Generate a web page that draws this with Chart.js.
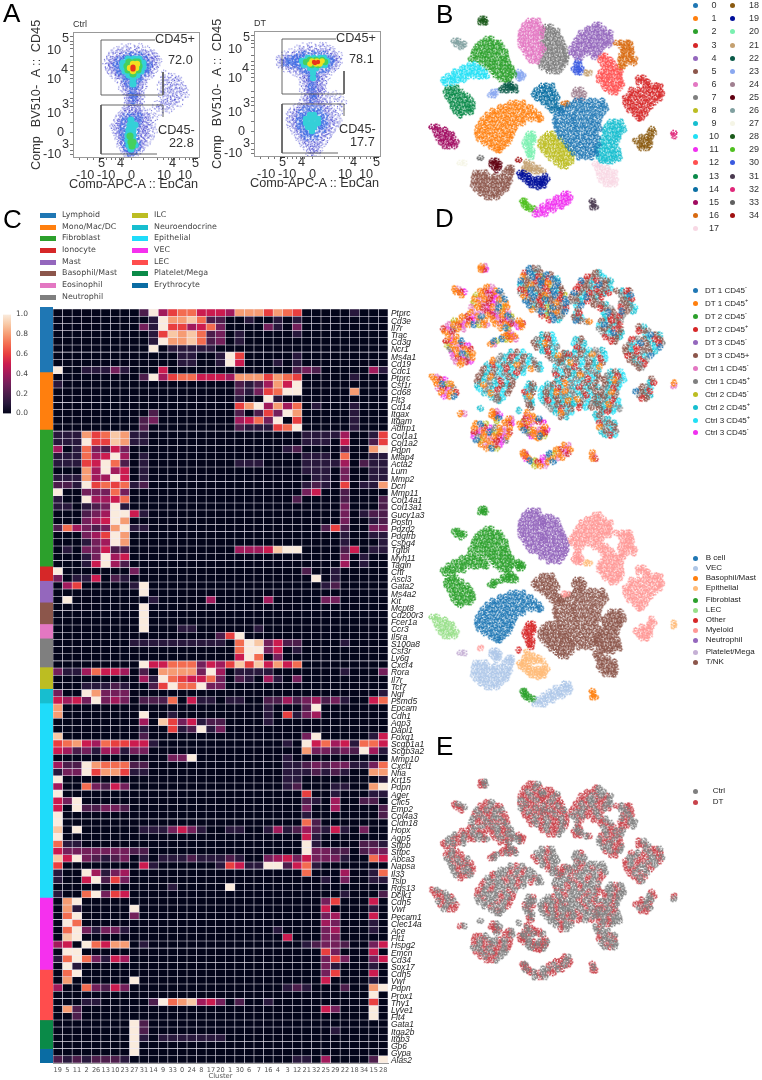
<!DOCTYPE html>
<html>
<head>
<meta charset="utf-8">
<title>Figure</title>
<script src="https://cdn.jsdelivr.net/npm/chart.js@4/dist/chart.umd.min.js"></script>
<style>
html,body{margin:0;padding:0;background:#fff}
#page{position:relative;width:762px;height:1080px;overflow:hidden;font-family:"Liberation Sans",sans-serif;filter:blur(.3px)}
#page canvas{position:absolute}
.t{position:absolute;white-space:nowrap;color:#333;line-height:1}
.dot{position:absolute;width:5px;height:5px;border-radius:50%}
.sw{position:absolute;width:16px;height:5px}
sup{font-size:70%;line-height:0}
</style>
</head>
<body>
<div id="page"></div>
<script>
/* --------------- Panel C : heatmap --------------- */
const clusterOrder = ["19","5","11","2","26","13","10","23","27","31","14","9","33","0","24","8","17","20","1","30","6","7","16","4","3","12","21","32","25","29","22","18","34","15","28"];
const genes = ["Ptprc","Cd3e","Il7r","Trac","Cd3g","Ncr1","Ms4a1","Cd19","Cdc1","Ptprc","Csf1r","Cd68","Flt3","Cd14","Itgax","Itgam","Adfrp1",
"Col1a1","Col1a2","Pdpn","Mfap4","Acta2","Lum","Mmp2","Dcn","Mmp11","Col14a1","Col13a1","Gucy1a3","Postn","Pdzd2","Pdgfrb","Cspg4","Tgfbi","Myh11","Tagln",
"Cftr","Ascl3","Gata2","Ms4a2","Kit","Mcpt8","Cd200r3","Fcer1a","Ccr3","Il5ra","S100a8","Csf3r","Ly6g","Cxcr4","Rora","Il7r","Tcf7","Ngf","Psmd5",
"Epcam","Cdh1","Aqp3","Dapl1","Foxq1","Scgb1a1","Scgb3a2","Mmp10","Cxcl1","Nfia","Krt15","Pdpn","Ager","Clic5","Emp2","Col4a3","Cldn18","Hopx","Aqp5","Sftpb","Sftpc","Abca3","Napsa","Il33","Tslp","Rgs13","Dclk1",
"Cdh5","Vwf","Pecam1","Clec14a","Ace","Flt1","Hspg2","Emcn","Cd34","Sox17","Cdh5","Vwf","Pdpn","Prox1","Thy1","Lyve1","Flt4","Gata1","Itga2b","Itgb3","Gp6","Gypa","Alas2"];
// one string per gene, one char per cluster, tenths (a = 1.0), spaces only for counting
const heatRows = [
"00000 00002 a4677 55548 88687 60000 01000","00000 00000 1a889 72200 10010 10000 00000","00000 00003 1a664 57300 00310 30000 00000","00000 00000 16989 72301 00000 10000 00000",
"00000 00000 1a889 72301 00000 00000 00000","00000 00000 a0111 11000 00000 00000 00000","00000 00000 00011 001a6 00000 10000 00000","00000 00000 00011 001a5 00010 10000 00000",
"a0011 13100 05000 00000 00000 23200 00041","00000 00002 a4677 55548 88687 60000 01000","10000 00000 00000 00002 12485 a0000 00000","00000 00000 00000 00002 1367a a0000 08000",
"00000 00000 00000 00001 00a10 00000 00000","00000 00000 00000 00006 8a484 70100 01000","00000 00000 20000 00002 0263a 80000 01000","00000 00002 30000 00004 573a0 60000 01000",
"00000 00002 00000 00002 11167 a0000 01000",
"11186 79811 00000 00000 00000 01111 40016","111a6 69811 00000 00000 00000 01110 50026","40173 25300 00000 00000 00001 20000 2008a","11174 5a401 00000 00000 00000 01110 70011",
"11165 a7201 00000 00001 11000 01111 40211","00084 a4501 00000 00000 00000 01110 30011","11184 4a501 00000 00000 00000 00110 30011","221a6 76712 00000 00000 00000 01210 60118",
"a0033 37300 00000 00000 00000 03500 20000","100a4 45700 00000 00000 00000 20000 20002","11012 3a100 00000 00000 00000 00000 30002","00023 4aa51 00000 00000 00000 00000 30122",
"00034 5a800 00000 00000 00000 00000 30012","27432 38a11 00000 00000 00000 00026 20033","00034 6a800 00000 00000 00000 00000 10011","00013 4a800 00000 00000 00000 00000 10001",
"01033 52200 00000 00004 4459a a0000 25011","00013 a4500 00000 00000 00000 00000 30100","00015 a4200 00000 00000 00000 00000 40100",
"a0000 00030 00000 00000 00000 02001 00000","30115 02100 00000 00000 00000 00a01 00000","04600 0001a 00000 00000 00000 00012 00000","00000 0000a 00000 00000 00000 00000 00000",
"0a000 00000 10000 04000 00400 00033 00000","00000 0000a 00000 00000 00000 00000 00000","00000 0000a 00000 00000 00000 00000 00000","00000 0000a 00000 00000 00000 00000 00000",
"00000 0000a 00011 00000 01000 00000 00000","00000 00000 00000 0026a 00000 00000 00000","00000 00011 11111 11107 a9352 20000 10000","00000 00000 00000 00007 aa350 10000 00000",
"00000 00000 00000 00005 a7030 00000 00000","00000 0000a 55777 35469 69585 70000 00000","31147 55402 08888 3a401 11100 00000 10003","00000 00004 1a765 57302 10410 30000 00000",
"00011 12100 26a77 a3300 00000 00000 00000","300a8 33300 00000 00000 00000 00000 00001","5453a 34302 22705 11011 00224 23423 10057",
"80000 00000 00000 00000 00100 02a00 00000","80000 0000a 00100 00000 00106 13400 00000","00000 00004 09635 12200 00100 00000 00000","00000 00001 00612 a1300 00000 00000 00000",
"90000 00002 00000 00000 00000 03a00 00015","67854 76655 10000 00000 00001 0a574 51775","54231 44133 00000 00000 00000 08332 32a41","00000 00000 0033a 00000 00001 00000 00000",
"422a8 77722 00000 00000 00001 12323 31137","133a6 88611 00000 00000 00001 11212 10088","a0000 00000 00000 00000 00001 10000 00001","40073 25300 00000 00000 00001 20001 1008a",
"a0000 00000 00000 00000 00000 06001 00011","53a00 00000 00000 00000 00000 02104 00220","50a22 33200 00000 00000 00000 03004 00002","a0000 00000 00000 00000 00000 01000 00002",
"a0000 00000 00000 00000 00000 07200 00000","90a00 00001 11353 10011 00141 24215 10300","a0000 00000 00000 00000 00000 05100 00000","71100 00000 00000 00000 00000 0a100 00221",
"53333 33322 00000 00000 00000 0a332 20233","95a32 12301 01112 11121 00345 35333 10075","60000 00005 10000 00165 11aa2 57100 00000","100a4 13400 00000 00000 00000 07000 40017",
"1005a 26300 00000 00000 00000 00010 30011","00000 00000 00100 000a0 00000 00000 00000","1007a 36500 00000 00000 00000 00000 10002",
"08a00 00000 00000 00000 00000 00036 00050","08100 000a0 00000 00000 00000 00050 00010","07a00 00030 00000 00000 00000 00034 00050","0a700 00000 00000 00000 00000 00043 00010",
"07a31 33100 00000 00000 00010 00034 00010","09a00 00000 00000 00000 00005 00033 00000","450a7 58801 00000 00000 00000 01233 20035","0aa00 00000 00000 00000 00000 00063 00050",
"17a73 15400 00000 00000 00000 00036 30035","0a100 00000 00000 00000 00000 00031 00010",
"07a00 00000 00000 00000 00000 00036 00050","08000 000a0 00000 00000 00000 00050 00010","40073 25300 00000 00000 00001 21000 2008a","00000 00000 00000 00000 00000 00000 000a0",
"00011 00000 2a789 45302 00100 00000 00060","08200 00000 00000 00000 00000 00053 000a0","00200 00000 00000 00000 00000 00000 000a0",
"00000 000a2 00000 00000 00000 00000 00000","00000 000a2 00000 00000 00000 00001 00000","00000 000a1 01111 11100 00000 00000 00000","00000 000a0 00000 00000 00000 00000 00000",
"00000 000a0 00000 00000 00000 00000 00000","21212 22100 00000 00000 00000 11040 0002a"];
const groupNames = ["Lymphoid","Mono/Mac/DC","Fibroblast","Ionocyte","Mast","Basophil/Mast","Eosinophil","Neutrophil","ILC","Neuroendocrine","Epithelial","VEC","LEC","Platelet/Mega","Erythrocyte"];
const groupSizes = [9,8,19,2,3,3,2,4,3,2,27,10,7,4,2];
const groupColors = ["#1f77b4","#ff7f0e","#2ca02c","#d62728","#9467bd","#8c564b","#e377c2","#7f7f7f","#bcbd22","#17becf","#1fdcfa","#f530ee","#ff4d4d","#0a8a48","#0a6ca3"];
const rocket = [[3,5,26],[40,24,60],[76,29,75],[115,31,90],[161,26,91],[203,27,79],[232,63,63],[243,108,80],[246,156,115],[248,200,165],[250,235,221]];
const colorbarTicks = [0,0.2,0.4,0.6,0.8,1];

/* --------------- t-SNE embedding, one list per cluster --------------- */
// each row is [y, x, x, x ...]
const c0=[[101,155,161,168,174,181],[105,148,153,159,165,171,177,183],[109,142,147,154,160,166,172,179,184],[113,137,141,149,155,161,168,174,181],[117,135,143,148,153,160,166,172,178],[121,134,139,146,152,158,165,170,177],[125,135,141,147,153,159,164,171,176],[129,136,142,149,155,161,167,173,178],[133,138,144,150,156,163,168,174],[137,140,146,152,158,164,170,176],[141,144,150,156,162,168,174],[145,147,153,159,165,171,177],[149,150,156,162,167,173],[153,153,159,165,171,175],[157,158,164,170]];
const c1=[[103,90,96,102],[107,80,85,91,97,103,109],[111,72,77,83,89,95,101,107,113],[115,67,72,78,84,90,96,102,108,114,118],[119,63,69,74,80,86,92,98,103,110,117,120],[123,61,66,72,78,84,90,96,102],[127,58,64,70,76,82,88,94],[131,57,62,68,74,80,86,92],[135,57,63,69,75,81,87,91],[139,59,65,71,77,83,89],[143,64,70,76,82,87],[147,71,77,82],[150,76,79]];
const c2=[[39,66,71],[43,60,65,70,75,79],[47,56,61,66,71,76,81],[51,54,59,64,69,74,79,84],[55,53,58,63,68,73,78,85],[59,51,57,62,67,72,78,83,86],[63,62,67,72,77,82,87],[67,67,72,77,82,87,90],[71,72,77,82,87,91],[75,75,80,85,90,93],[79,80,85,88]];
const c3=[[78,217,222],[82,217,222,226],[86,224,229,234,238],[90,210,216,222,228,233,238],[94,208,213,219,225,231,237,240],[98,204,209,215,221,227,233,238],[102,204,209,215,221,227,233],[106,206,211,217,223,229],[110,208,213,219,225],[114,213,218,223],[118,217,220]];
const c4=[[25,174,178],[29,166,171,176,182],[33,160,165,170,175,180,185,189],[37,158,163,168,173,178,183,188],[41,155,160,165,170,175,180,185,189],[45,153,158,163,168,173,178,183,187],[49,150,155,160,165,170,175,180],[53,151,156,161,166,172,177],[57,155,160,173]];
const c5=[[168,88,91],[172,84,88,91],[173,55,60,65],[177,54,59,64,69,74,79,84,89],[181,54,59,64,69,74,79,84,89],[185,53,58,63,68,73,78,83,87],[189,56,61,66,71,76,81,85],[193,60,65,70,75,80],[197,66,71,76]];
const c6=[[21,108,113,117],[25,104,109,114,119],[29,102,107,112,117,121],[33,100,105,110,115,120],[37,100,105,110,115,120],[41,100,105,110,115],[45,100,105,110,115,120],[49,103,108,113,118,122],[53,105,110,115,120],[57,108,113,118],[61,111,116]];
const c7=[[27,125,130],[31,122,127,132,136],[35,122,127,132,137],[39,124,129,134,139],[43,122,127,132,137,141],[47,124,129,134,139,143],[51,124,129,134,139,144],[55,125,130,135,140,145],[59,122,127,132,137,142,145],[63,120,125,130,135,140,144],[67,121,126,131,136,141],[71,128,133,138]];
const c8=[[134,127,132],[138,122,127,132,137],[142,120,125,130,135,140],[146,120,125,130,135,140,144],[150,122,127,132,137,142,147],[154,126,131,136,141,146,151],[158,130,135,140,145,150],[162,135,140,145,150],[166,140,145]];
const c9=[[122,189,194,199],[126,186,191,196,201],[130,183,188,193,198,202],[134,184,189,194,198],[138,182,187,192,196],[142,180,185,190,195],[146,178,183,188,193],[150,176,181,186,191,196],[154,177,182,187,192,197],[158,178,183,188,193,198],[161,181,186,191]];
const c10=[[64,50,55],[68,42,47,52,57,61],[72,34,39,44,49,54,59,64],[76,28,33,38,43,48,53,58,63,66],[80,23,28,33,38,43],[83,25,32]];
const c11=[[194,143,147],[198,135,140,145,149],[202,128,133,138,143,147],[206,122,127,132,137,141],[210,117,122,127,132],[214,114,119,124]];
const c12=[[56,180,184],[60,179,184,189],[64,182,187,192],[68,184,189,194],[72,180,185,190,195,199],[76,178,183,188,193,198],[80,178,183,188,193,199],[84,182,187,192,197,200],[88,184,189,194,198],[92,190,194]];
const c13=[[88,28,32,36],[92,26,31,36,41],[96,27,32,37,42,47],[100,30,35,40,45,50],[104,32,37,42,47,52],[108,33,38,43,48,52],[112,36,41,46,50],[115,40]];
const c14=[[86,121,126,131],[90,116,122,127,132],[94,113,118,124,129,134],[98,116,121,126,131,136],[102,122,127,133],[106,127,133,137],[110,131,136,140]];
const c15=[[127,12,17],[130,15,20,25],[134,17,22,27,31],[138,18,23,28,33],[142,21,26,31,36],[146,24,29,34]];
const c16=[[43,195,200,205,208],[47,200,205,209],[51,202,206,210],[55,200,205,209],[59,199,204,209,213],[63,200,205,212],[67,198,201],[104,143,146]];
const c17=[[164,174,178],[168,176,181,186],[172,178,183,188,193],[176,178,183,188,193],[180,180,185,190,194],[184,184,189,193]];
const c18=[[129,230],[133,228,232],[137,220,225,229],[141,214,219,224,228],[145,218,223,228],[148,220,225]];
const c19=[[173,99,103],[176,100,104,108,124],[179,103,108,113,118,122,126],[182,107,112,116,120,124],[185,110,114,119,123],[187,118]];
const c20=[[134,108,112],[138,106,110,113],[142,104,108,112],[146,105,109],[150,107,111],[154,108,111],[157,110]];
const c21=[[162,106],[165,106,111],[168,104,109,114,118],[171,103,108,113,118,122],[73,165,168]];
const c22=[[84,87,90],[87,83,87,91,94],[90,81,86,90,95]];
const c23=[[72,98],[75,97,100,102],[78,98,101],[92,73,76],[95,70,73]];
const c24=[[90,155,160],[94,153,158,163],[98,156,161]];
const c25=[[161,72,76],[164,71,75,79],[167,74,78],[170,76]];
const c26=[[41,34,38],[44,36,40,44],[47,41]];
const c27=[[163,40,44]];
const c28=[[19,61,64],[22,60,63,65]];
const c29=[[201,102,104],[204,103,105],[207,105,108],[209,109,113]];
const c30=[[61,157],[65,155,158],[69,153,157,160],[72,155,159]];
const c31=[[201,171],[204,172],[207,171,174]];
const c32=[[133,252],[136,252]];
const c33=[[158,60]];
const c34=[[160,98]];
const clusterRows=[c0,c1,c2,c3,c4,c5,c6,c7,c8,c9,c10,c11,c12,c13,c14,c15,c16,c17,c18,c19,c20,c21,c22,c23,c24,c25,c26,c27,c28,c29,c30,c31,c32,c33,c34];
const clusterColors=["#1f77b4","#ff7f0e","#2ca02c","#d62728","#9467bd","#8c564b","#e377c2","#7f7f7f","#bcbd22","#17becf","#22e0f5","#f030f0","#ff5050","#0b8a4a","#0a6fa3","#a00a60","#d86a10","#f8d8e4","#8a5a10","#000f9a","#7af0b0","#c4a070","#0a5a48","#8aa8f0","#a08090","#600010","#80a0a0","#f5f5e6","#1a5a1a","#50c020","#3a5ae0","#4a3a50","#e0287a","#606060","#a01010"];

/* panel D lower : cell type per cluster */
const typeNames=["B cell","VEC","Basophil/Mast","Epithelial","Fibroblast","LEC","Other","Myeloid","Neutrophil","Platelet/Mega","T/NK"];
const typeColors=["#1f77b4","#aec7e8","#ff7f0e","#ffbb78","#2ca02c","#98df8a","#d62728","#ff9896","#9467bd","#c5b0d5","#8c564b"];
const clusterType=[10,0,4,7,7,1,8,8,10,10,4,1,7,4,10,5,7,10,7,3,6,3,4,4,10,1,4,9,4,4,7,2,3,7,6];

/* panel D upper + E : sample per cluster */
const sampleNames=["DT 1 CD45<sup>-</sup>","DT 1 CD45<sup>+</sup>","DT 2 CD45<sup>-</sup>","DT 2 CD45<sup>+</sup>","DT 3 CD45<sup>-</sup>","DT 3 CD45+","Ctrl 1 CD45<sup>-</sup>","Ctrl 1 CD45<sup>+</sup>","Ctrl 2 CD45<sup>-</sup>","Ctrl 2 CD45<sup>+</sup>","Ctrl 3 CD45<sup>+</sup>","Ctrl 3 CD45<sup>-</sup>"];
const sampleColors=["#1f77b4","#ff7f0e","#2ca02c","#d62728","#9467bd","#8c564b","#e377c2","#7f7f7f","#bcbd22","#17becf","#22e0f5","#f030f0"];
const mixStroma=[1,6,1,3,11,1,0,8,1,6,3,11,7];
const mixLymph=[9,5,10,7,9,3,10,5,9,1,7,10,5];
const mixMyeloid=[5,9,3,5,7,10,0,5,9,3,7];
const mixNeut=[0,5,7,3,0,9,5,1,7,0,3,8];
const clusterMix=[mixLymph,mixLymph,mixStroma,mixMyeloid,mixMyeloid,mixStroma,mixNeut,mixNeut,mixLymph,mixLymph,mixStroma,mixStroma,mixMyeloid,mixStroma,mixLymph,mixStroma,mixMyeloid,mixLymph,mixMyeloid,mixStroma,mixLymph,mixStroma,mixStroma,mixStroma,mixLymph,mixStroma,mixStroma,mixStroma,mixStroma,mixStroma,mixMyeloid,mixStroma,mixStroma,mixLymph,mixLymph];
const conditionNames=["Ctrl","DT"];
const conditionColors=["#7f7f7f","#c8434b"];

/* --------------- Panel A : flow plots, [y, x, x ...] --------------- */
const ctrlBlue=[[16,50,58,66],[19,44,52,60,68,74],[22,40,47,54,62,70,76,80],[25,38,44,50,58,66,72,78,82],[28,36,42,47,53,70,76,80,84],[31,34,40,45,73,78,83],[34,36,41,46,75,80],[37,37,42,76,81],[40,39,44,47,74,79],[43,42,46,72,76,92],[46,46,50,56,64,70,96,102],[49,48,53,68,90,100,106],[52,52,56,66,70,94,104],[55,50,55,65,69,88,98,108],[58,53,57,63,67,92,100,110],[61,54,58,62,66,96,104,112],[64,55,59,63,67,90,100,108],[67,56,60,64,68,94,102],[70,56,60,64,88,98,106],[73,55,60,65,84,92,100],[76,55,60,66,90,96],[79,52,57,63,68,86],[82,50,55,60,65,70,76],[85,47,52,57,62,67,72,80],[88,45,50,60,66,70,76],[91,44,49,54,64,70,74],[94,42,47,52,66,72,78],[97,43,48,66,71,76],[100,44,48,66,70,80],[103,46,50,66,72],[106,46,50,66,70,76],[109,48,51,68,74],[112,48,52,66,70],[115,50,54,64,68],[118,52,56,62,66],[121,54,58,62],[124,55,60]];
const ctrlHalo=[[24,54,60,66],[28,47,53,60,67,72],[32,44,50,70,75],[36,45,50,71,74],[40,48,53,68,72],[44,51,56,64,68],[48,54,60,65],[53,57,62],[58,60],[63,60],[68,60],[85,53,60,66],[90,52,58,65],[95,51,57,63],[100,50,56,62],[105,51,56,62],[110,52,58,64],[115,53,59,64],[120,57,60]];
const ctrlCyan=[[27,55,61,66],[31,50,56,66,70],[35,50,53,68,70],[39,52,56,66,68],[43,56,60,64],[47,60],[52,60],[88,58],[93,57,62],[98,56,60],[103,55,60],[108,55,60],[113,56,62],[117,58]];
const ctrlGreen=[[30,56,62,65],[34,54,66],[38,55,65],[42,60],[104,57],[110,58,60],[114,59]];
const ctrlYellow=[[32,60,64],[36,57,63],[39,60]];
const ctrlRed=[[35,60],[37,60]];
const dtBlue=[[16,50,58,66,72],[19,44,52,60,68,76],[22,38,46,54,62,70,78],[25,30,36,42,48,74,80,84],[28,27,32,38,44,78,82],[31,26,30,34,40,46,80,84],[34,28,32,38,44,78,82],[37,32,38,44,50,72,78],[40,40,46,52,70,76],[43,46,52,58,64,70],[46,50,55,60,66,72],[49,50,54,60,64,70],[52,50,56,62,68],[55,52,56,62,66],[58,50,56,60,64,68],[61,54,58,62,66,70],[64,52,56,60,64,82],[67,54,58,62,66,76],[70,50,56,60,66,72,88],[73,48,54,60,66,72,84],[76,44,50,56,62,68,74],[79,40,46,70,76,86],[82,38,44,72,78],[85,36,42,74,80],[88,38,44,74,82],[91,36,42,76,84],[94,38,44,76,80],[97,40,46,72,78],[100,42,48,70,76],[103,44,50,68,74],[106,46,52,66,72],[109,48,54,64,70],[112,50,56,62,68],[115,52,58,62],[118,56,60,64],[122,56,62],[125,58,62]];
const dtHalo=[[24,46,52,58,64,70],[28,36,42,48,72,77],[31,32,38,44,76],[34,38,46,74],[38,48,54,60,66,72],[42,56,62],[46,58,62],[51,58],[56,58],[62,59],[68,59],[78,52,58,64],[82,48,54,60,66],[86,46,52,64,70],[90,46,50,66,70],[94,46,50,66,70],[98,48,54,62,68],[102,50,56,62],[106,54,60]];
const dtCyan=[[27,54,60,66,70],[30,48,52,70,73],[34,50,56,66,71],[37,56,62],[42,59],[47,59],[84,56,60],[88,52,58,64],[92,52,58,64],[96,54,60],[100,58]];
const dtGreen=[[29,56,62,68],[34,58,64],[31,52,71]];
const dtYellow=[[30,58,63,68],[33,56,62,66]];
const dtRed=[[31,60,64],[32,61]];
const gateUpper=[[90,40],[90,63],[28,63],[28,8],[82,8]];
const gateLower=[[90,85],[90,73],[28,73],[28,122],[84,122]];
const flowXTicks=[6,14,20,27,33,38,42,46,50,58,70,84,90,95,98,101,106,112,116,119,122];
const flowYTicks=[4,9,12,16,24,30,34,38,42,46,50,60,66,70,74,80,90,100,112,118,122];
const flowTickTexts=[["10",47,44],["5",62,32],["10",47,73],["4",61,63],["10",47,107],["3",62,98],["0",57,126],["-10",43,148],["3",62,138],
["5",98,157],["4",117,157],["-10",76,169],["-10",97,169],["0",128,169],["10",157,169],["4",169,157],["10",178,169],["5",192,157]];
// each drawn point is a small clump of fine dots, the same way the dense plots read
const clumpDots=[[0,0],[-3.2,-1],[3,1.2],[-1,-3.2],[1.2,3],[-2.6,2.2],[2.5,-2.4],[3.7,-0.6],[-0.4,1.6],[-3.8,0.6]];

/* --------------- helpers --------------- */
const page=document.getElementById("page");
Chart.defaults.animation=false;
Chart.defaults.responsive=false;
Chart.defaults.font.family='"Liberation Sans"';

function addCanvas(left,top,w,h){
  const c=document.createElement("canvas");
  c.width=w;c.height=h;
  c.style.left=left+"px";c.style.top=top+"px";
  page.appendChild(c);
  return c;
}
function addText(html,x,y,size,color){
  const d=document.createElement("div");
  d.className="t";d.innerHTML=html;
  d.style.left=x+"px";d.style.top=y+"px";d.style.fontSize=size+"px";
  if(color)d.style.color=color;
  page.appendChild(d);
  return d;
}
function addDot(x,y,color){
  const d=document.createElement("div");
  d.className="dot";d.style.left=(x-2.5)+"px";d.style.top=(y-2.5)+"px";d.style.background=color;
  page.appendChild(d);
}
function clump(color,r,spread){
  const s=document.createElement("canvas");
  s.width=s.height=Math.ceil(10*spread)+2;
  const g=s.getContext("2d");
  g.fillStyle=color;
  clumpDots.forEach(o=>{
    g.beginPath();
    g.arc(s.width/2+o[0]*spread,s.height/2+o[1]*spread,r,0,Math.PI*2);
    g.fill();
  });
  return s;
}
const rowsToPoints=rows=>rows.flatMap(r=>r.slice(1).map(x=>({x:x,y:r[0]})));
const noPlugins={legend:{display:false},tooltip:{enabled:false}};

function heatColor(v){
  return "rgb("+rocket[v].join(",")+")";
}

/* --------------- panel letters --------------- */
[["A",3,0],["B",436,1],["C",3,206],["D",435,205],["E",436,733]].forEach(l=>addText(l[0],l[1],l[2],26,"#000"));

/* --------------- Panel A --------------- */
function flowChart(left,top,layers,valA,valB,name){
  const ds=[];
  [gateUpper,gateLower].forEach(g=>ds.push({data:g.map(p=>({x:p[0],y:p[1]})),showLine:true,pointRadius:0,borderColor:"#555",borderWidth:0.9}));
  // first dataset is painted last, so the hottest layer goes first
  layers.forEach(l=>ds.push({data:rowsToPoints(l[0]),backgroundColor:l[1],borderWidth:0,pointRadius:l[2],pointStyle:l[3]||"circle",
    pointRotation:c=>(c.dataIndex*67)%360}));
  new Chart(addCanvas(left-6,top,126+6,125+6),{
    type:"scatter",
    data:{datasets:ds},
    options:{
      layout:{autoPadding:false,padding:0},
      plugins:noPlugins,
      scales:{
        x:{min:0,max:126,ticks:{display:false},grid:{drawOnChartArea:false,tickLength:3,color:"#777"},border:{color:"#888"},
           afterBuildTicks:a=>{a.ticks=flowXTicks.map(v=>({value:v}))},afterFit:a=>{a.height=6}},
        y:{min:0,max:125,reverse:true,ticks:{display:false},grid:{drawOnChartArea:false,tickLength:3,color:"#777"},border:{color:"#888"},
           afterBuildTicks:a=>{a.ticks=flowYTicks.map(v=>({value:v}))},afterFit:a=>{a.width=6}}
      }
    }
  });
  const box=document.createElement("div");
  box.style.cssText="position:absolute;border:1px solid #999;box-sizing:border-box;left:"+left+"px;top:"+top+"px;width:127px;height:126px";
  page.appendChild(box);
  const dx=left-73,dy=top-32;
  addText(name,left,20+dy,9,"#333");
  flowTickTexts.forEach(t=>addText(t[0],t[1]+dx,t[2]+dy,12.7,"#333"));
  addText("CD45+",155+dx,33+dy,12.7,"#333");
  addText(valA,168+dx,54+dy,12.7,"#333");
  addText("CD45-",158+dx,124+dy,12.7,"#333");
  addText(valB,169+dx,137+dy,12.7,"#333");
  [["Comp",153],["BV510-",106],["A ::",68],["CD45",36]].forEach(w=>{
    const d=addText(w[0],36+dx,w[1]+dy,12.7,"#333");
    d.style.transform="translate(-50%,-50%) rotate(-90deg)";
  });
  const xt=addText("Comp-APC-A :: EpCan",69+dx,178+dy,12.7,"#333");
  xt.style.height="10px";xt.style.overflow="hidden";
}
const blueClump=clump("#3838cc",0.55,1.25);
const haloClump=clump("#3f6fe4",0.85,1.0);
flowChart(73,32,[[ctrlRed,"#e8341c",2.6],[ctrlYellow,"#f2e020",3.2],[ctrlGreen,"#45d060",3.6],[ctrlCyan,"#35d0d8",3.6],[ctrlHalo,"#3f6fe4",3,haloClump],[ctrlBlue,"#3838cc",1,blueClump]],"72.0","22.8","Ctrl");
flowChart(254,31,[[dtRed,"#e8341c",2.2],[dtYellow,"#f2e020",2.8],[dtGreen,"#45d060",3.2],[dtCyan,"#35d0d8",3.2],[dtHalo,"#3f6fe4",3,haloClump],[dtBlue,"#3838cc",1,blueClump]],"78.1","17.7","DT");

/* --------------- t-SNE panels --------------- */
function tsneChart(top,height,datasets){
  new Chart(addCanvas(420,top,264,height),{
    type:"scatter",
    data:{datasets:datasets.map(d=>({data:d.data,backgroundColor:d.color,pointRadius:2,borderWidth:0,
      pointStyle:clump(d.color,0.9,0.78),pointRotation:c=>(c.dataIndex*67)%360}))},
    options:{
      layout:{autoPadding:false,padding:0},
      plugins:noPlugins,
      scales:{x:{display:false,min:0,max:262},y:{display:false,min:0,max:225,reverse:true}}
    }
  });
}
// panel B
tsneChart(0,225,clusterRows.map((rows,i)=>({data:rowsToPoints(rows),color:clusterColors[i]})));
// panel D upper, points grouped by sample
const samplePts=sampleColors.map(()=>[]);
clusterRows.forEach((rows,i)=>{
  rowsToPoints(rows).forEach((p,k)=>{
    const m=clusterMix[i];
    samplePts[m[k%m.length]].push(p);
  });
});
tsneChart(247,230,samplePts.map((pts,i)=>({data:pts,color:sampleColors[i]})));
// panel D lower, points grouped by cell type
const typePts=typeNames.map(()=>[]);
clusterRows.forEach((rows,i)=>typePts[clusterType[i]].push(...rowsToPoints(rows)));
tsneChart(490,225,typePts.map((pts,i)=>({data:pts,color:typeColors[i]})));
// panel E, DT samples are the first six
tsneChart(763,225,[
  {data:samplePts.slice(6).flat(),color:conditionColors[0]},
  {data:samplePts.slice(0,6).flat(),color:conditionColors[1]}
]);

/* legends */
clusterColors.forEach((col,i)=>{
  const second=i>=18;
  const row=second?i-18:i;
  const y=5.7+13.1*row;
  addDot(second?732:695,y,col);
  const t=addText(String(i),second?754:714,y-4.5,9,"#333");
  t.style.transform="translateX(-50%)";
});
sampleNames.forEach((n,i)=>{
  const ys=[290,303.7,316.3,329.3,342.3,355,368.3,381.3,394.3,407.3,420,432.7];
  addDot(695,ys[i],sampleColors[i]);
  addText(n,705,ys[i]-3.5,8,"#222");
});
typeNames.forEach((n,i)=>{
  const ys=[558,568,578,588,600,610,620,630,640,652,662];
  addDot(695,ys[i],typeColors[i]);
  addText(n,705.7,ys[i]-4,8,"#222");
});
conditionNames.forEach((n,i)=>{
  const ys=[791,802];
  addDot(695,ys[i],conditionColors[i]);
  addText(n,712.7,ys[i]-4,8,"#222");
});
groupNames.forEach((n,i)=>{
  const ys=[215,227,238,250,262,273,285,297];
  const col=i<8?0:1;
  const y=ys[col?i-8:i];
  const s=document.createElement("div");
  s.className="sw";s.style.left=(col?132:40)+"px";s.style.top=(y-2.5)+"px";s.style.background=groupColors[i];
  page.appendChild(s);
  addText(n,col?154:62,y-4,7.9,"#444").style.fontFamily='"DejaVu Sans"';
});

/* --------------- Panel C --------------- */
// colorbar
new Chart(addCanvas(3,305,32,118),{
  type:"bar",
  data:{labels:[""],datasets:[{data:[[0,1]],barPercentage:1,categoryPercentage:1,
    backgroundColor:ctx=>{
      const area=ctx.chart.chartArea;
      if(!area)return "#000";
      const g=ctx.chart.ctx.createLinearGradient(0,area.bottom,0,area.top);
      rocket.forEach((c,i)=>g.addColorStop(i/10,"rgb("+c.join(",")+")"));
      return g;
    }}]},
  options:{
    layout:{autoPadding:false,padding:{top:6,bottom:6}},
    plugins:noPlugins,
    scales:{
      x:{display:false},
      y:{position:"right",min:0,max:1,border:{display:false},grid:{display:false,drawTicks:false},
         ticks:{color:"#444",padding:5,font:{family:'"DejaVu Sans"',size:7.5},callback:v=>v.toFixed(1)},
         afterBuildTicks:a=>{a.ticks=colorbarTicks.map(v=>({value:v}))},afterFit:a=>{a.width=24}}
    }
  }
});
// group colour strip
new Chart(addCanvas(40,307,13,756),{
  type:"bar",
  data:{labels:[""],datasets:groupSizes.map((n,i)=>({data:[n],backgroundColor:groupColors[i],barPercentage:1,categoryPercentage:1}))},
  options:{
    layout:{autoPadding:false,padding:0},
    plugins:noPlugins,
    scales:{x:{display:false,stacked:true},y:{display:false,stacked:true,min:0,max:105,reverse:true}}
  }
});
// heatmap, one floating bar per cell
const heatDatasets=heatRows.map((row,r)=>{
  const vals=row.replace(/ /g,"").split("").map(ch=>parseInt(ch,16));
  return {
    label:genes[r],
    data:vals.map(()=>[r,r+1]),
    backgroundColor:vals.map(heatColor),
    borderColor:"rgba(220,205,235,.3)",
    borderWidth:0.6,
    borderSkipped:false,
    barPercentage:1,
    categoryPercentage:1,
    grouped:false
  };
});
// padding holds the half labels of the first gene and first cluster, so the cells still start at 53,307
new Chart(addCanvas(50,301,378,779),{
  type:"bar",
  data:{labels:clusterOrder,datasets:heatDatasets},
  options:{
    layout:{autoPadding:false,padding:{top:6,left:3}},
    plugins:noPlugins,
    scales:{
      x:{grid:{display:false,drawTicks:false},border:{color:"#999"},
         ticks:{color:"#555",font:{family:'"DejaVu Sans"',size:6.6},maxRotation:0,autoSkip:false,padding:3},
         title:{display:true,text:"Cluster",color:"#555",font:{family:'"DejaVu Sans"',size:6.8},padding:0},
         afterFit:a=>{a.height=17}},
      y:{position:"right",min:0,max:105,reverse:true,grid:{drawOnChartArea:false,drawTicks:false},border:{display:false},
         ticks:{autoSkip:false,color:"#222",padding:3,labelOffset:1.5,font:{family:'"Liberation Sans"',style:"italic",size:8.4},
                callback:v=>genes[Math.floor(v)]},
         afterBuildTicks:a=>{a.ticks=genes.map((g,i)=>({value:i+0.5}))},afterFit:a=>{a.width=40}}
    }
  }
});
</script>
</body>
</html>
